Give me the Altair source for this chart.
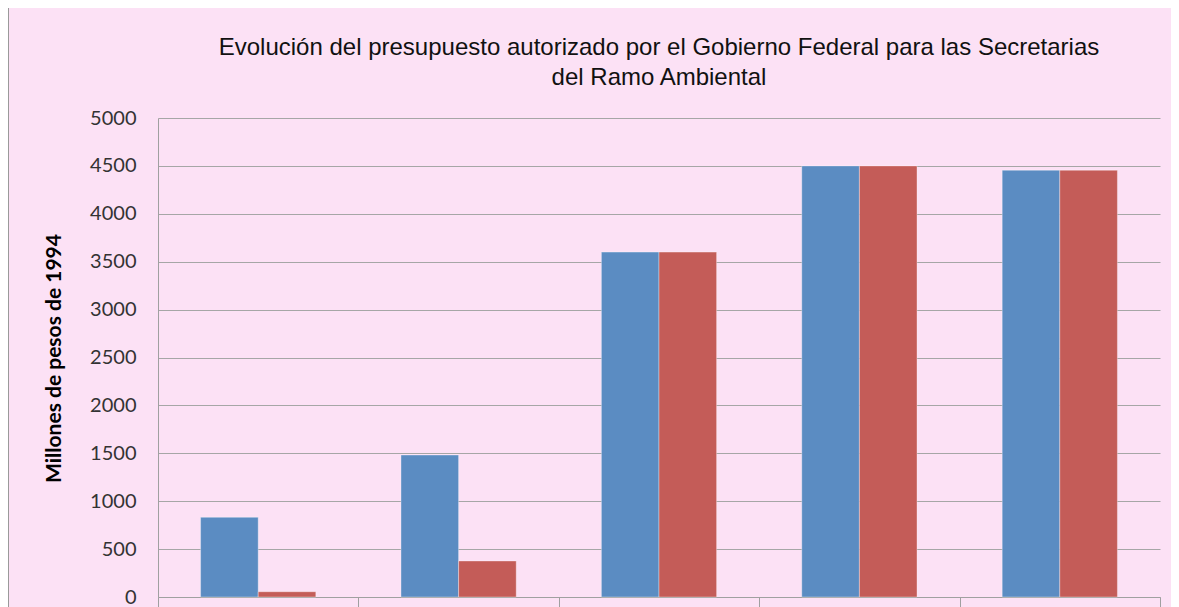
import altair as alt
import pandas as pd

categorias = ["Periodo 1", "Periodo 2", "Periodo 3", "Periodo 4", "Periodo 5"]
series = ["Serie 1", "Serie 2"]
serie1 = [832, 1482, 3600, 4500, 4455]
serie2 = [55, 376, 3600, 4500, 4455]
colores = ["#5B8CC2", "#C45C58"]
titulo = [
    "Evolución del presupuesto autorizado por el Gobierno Federal para las Secretarias",
    "del Ramo Ambiental",
]
eje_y = "Millones de pesos de 1994"

rows = []
for i, c in enumerate(categorias):
    rows.append({"cat": c, "serie": series[0], "valor": serie1[i]})
    rows.append({"cat": c, "serie": series[1], "valor": serie2[i]})
df = pd.DataFrame(rows)

bars = alt.Chart(df).mark_bar(stroke="#FFFFFF", strokeOpacity=0.35, strokeWidth=1).encode(
    x=alt.X(
        "cat:N",
        sort=categorias,
        scale=alt.Scale(paddingInner=0, paddingOuter=0),
        axis=alt.Axis(
            title=None,
            labels=False,
            tickBand="extent",
            tickSize=14,
            tickColor="#A0A0A0",
            domainColor="#A0A0A0",
            grid=False,
        ),
    ),
    xOffset=alt.XOffset("serie:N", sort=series, scale=alt.Scale(paddingInner=0, paddingOuter=0.739)),
    y=alt.Y(
        "valor:Q",
        scale=alt.Scale(domain=[0, 5000], nice=False),
        axis=alt.Axis(
            title=eje_y,
            values=list(range(0, 5001, 500)),
            format="d",
            ticks=False,
            labelFont="Lato",
            labelFontSize=20,
            labelColor="#333333",
            labelPadding=22,
            domainColor="#A0A0A0",
            gridColor="#A6A6A6",
            titleFont="Lato",
            titleFontSize=21,
            titleFontWeight="bold",
            titleColor="#000000",
            titleX=-104,
            titleY=240,
            titleAngle=270,
            titleAlign="center",
            titleBaseline="middle",
        ),
    ),
    color=alt.Color("serie:N", scale=alt.Scale(domain=series, range=colores), legend=None),
)

borde = alt.Chart(pd.DataFrame({"a": [0]})).mark_rule(color="#9A9A9A", strokeWidth=2, clip=False).encode(
    x=alt.value(-150), y=alt.value(-112), y2=alt.value(489)
)

chart = alt.layer(bars, borde).properties(
    width=1002,
    height=479,
    autosize="none",
    padding={"left": 150, "top": 110, "right": 11, "bottom": 40},
    background="#FCE1F5",
    title=alt.Title(
        text=titulo,
        font="Liberation Sans",
        fontSize=24,
        fontWeight="normal",
        color="#111111",
        lineHeight=30,
        offset=-85,
        anchor="middle",
        frame="group",
    ),
).configure_view(stroke=None)

chart.save("out.html", embed_options={"renderer": "svg", "actions": False})
